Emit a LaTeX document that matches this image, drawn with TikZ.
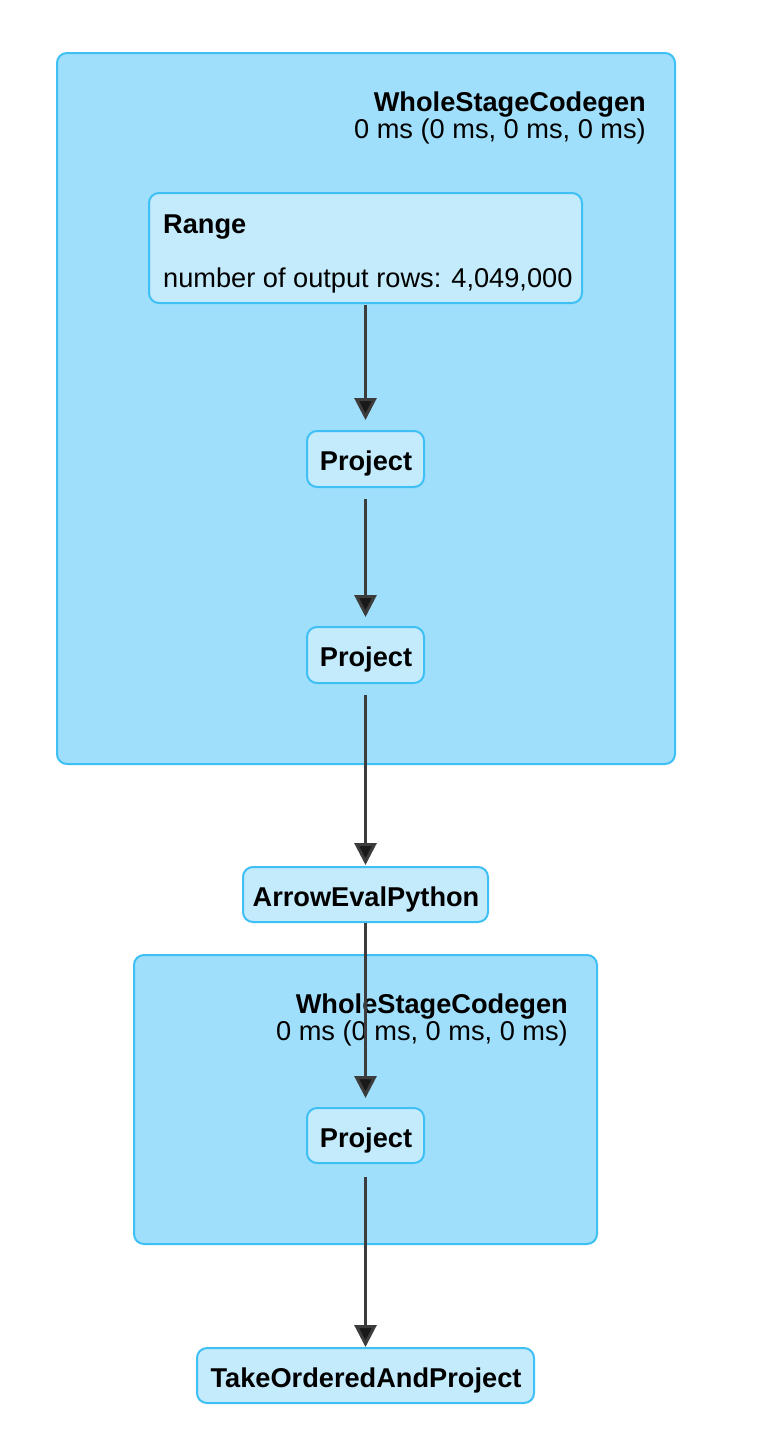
\documentclass[tikz,border=0pt]{standalone}
\usepackage{fontspec}
\setmainfont{Liberation Sans}
\usetikzlibrary{arrows.meta}
\definecolor{clusterfill}{HTML}{A0DFFC}
\definecolor{clusterline}{HTML}{3EC0F5}
\definecolor{nodefill}{HTML}{C3EBFC}
\definecolor{edgecol}{HTML}{3C3C3C}
\begin{document}
\begin{tikzpicture}[x=1pt,y=-1pt,
  cluster/.style={draw=clusterline,line width=2pt,fill=clusterfill,rounded corners=10pt,inner sep=0pt},
  opbox/.style={draw=clusterline,line width=2pt,fill=nodefill,rounded corners=10pt,inner sep=0pt},
  txt/.style={inner sep=0pt,font=\fontsize{27.2}{32}\selectfont},
  btxt/.style={inner sep=0pt,font=\fontsize{27.2}{32}\selectfont\bfseries},
  edge/.style={draw=edgecol,line width=3pt,-{Triangle[width=22pt,length=22pt,fill=black!90]}}]
\useasboundingbox[fill=white] (0,0) rectangle (758,1454);
% clusters
\node[cluster,minimum width=618pt,minimum height=711pt] (c1) at (366,408.5) {};
\node[btxt,anchor=base east] (c1t) at (646,111) {WholeStageCodegen};
\node[txt,anchor=base east] (c1s) at (646,138) {0 ms (0 ms, 0 ms, 0 ms)};
\node[cluster,minimum width=463pt,minimum height=289pt] (c2) at (365.5,1099.5) {};
\node[btxt,anchor=base east] (c2t) at (568,1013) {WholeStageCodegen};
\node[txt,anchor=base east] (c2s) at (568,1040) {0 ms (0 ms, 0 ms, 0 ms)};
% operator boxes
\node[opbox,minimum width=433pt,minimum height=110pt] (range) at (365.5,248) {};
\node[btxt,anchor=base west] (ranget) at (163,233) {Range};
\node[txt,anchor=base west] (ranges) at (163,287) {number of output rows: 4,049,000};
\node[opbox,minimum width=117pt,minimum height=56pt] (p1) at (365.5,459) {};
\node[btxt,anchor=base] (p1t) at (366,470) {Project};
\node[opbox,minimum width=117pt,minimum height=56pt] (p2) at (365.5,655) {};
\node[btxt,anchor=base] (p2t) at (366,666) {Project};
\node[opbox,minimum width=245pt,minimum height=55pt] (ae) at (365.5,894.5) {};
\node[btxt,anchor=base] (aet) at (366,906) {ArrowEvalPython};
\node[opbox,minimum width=117pt,minimum height=55pt] (p3) at (365.5,1135.5) {};
\node[btxt,anchor=base] (p3t) at (366,1147) {Project};
\node[opbox,minimum width=337pt,minimum height=55pt] (tk) at (365.5,1375.5) {};
\node[btxt,anchor=base] (tkt) at (366,1387) {TakeOrderedAndProject};
% edges
\draw[edge,shorten <=1pt,shorten >=10pt] (range.south) -- (p1.north);
\draw[edge,shorten <=11pt,shorten >=9pt] (p1.south) -- (p2.north);
\draw[edge,shorten <=11pt,shorten >=1pt] (p2.south) -- (ae.north);
\draw[edge,shorten <=0pt,shorten >=9pt] (ae.south) -- (p3.north);
\draw[edge,shorten <=13pt,shorten >=0pt] (p3.south) -- (tk.north);
\end{tikzpicture}
\end{document}
